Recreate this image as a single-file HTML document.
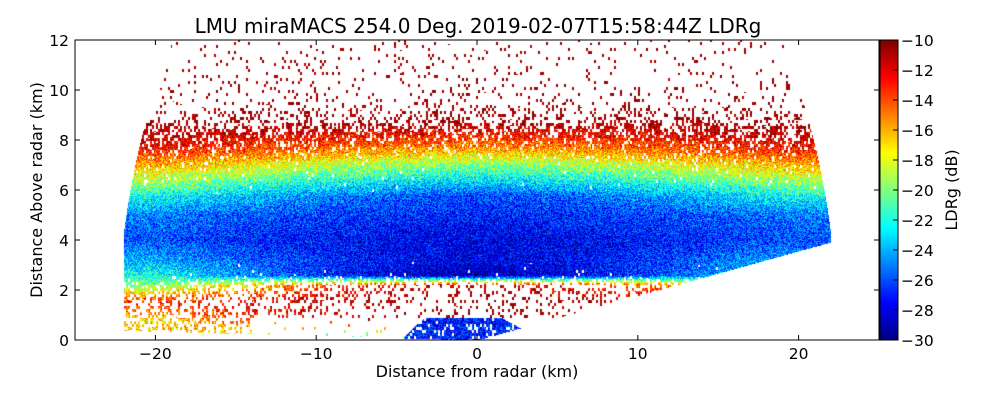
<!DOCTYPE html>
<html><head><meta charset="utf-8">
<style>
body{margin:0;background:#fff;width:1000px;height:400px;overflow:hidden;font-family:"DejaVu Sans",sans-serif}
#wrap{position:relative;width:1000px;height:400px}
canvas{position:absolute;left:0;top:0}
svg{position:absolute;left:0;top:0}
text{font-family:"DejaVu Sans","Liberation Sans",sans-serif;fill:#000}
</style></head><body>
<div id="wrap">
<canvas id="cv" width="1000" height="400"></canvas>
<svg id="sv" width="1000" height="400"></svg>
</div>
<script>
// Data
const heightsKm   = [0, 0.8, 1.5, 2.2, 2.6, 3.2, 4.0, 5.0, 5.8, 6.4, 7.0, 7.6, 8.2, 8.8, 9.5, 12];
const ldrCenter   = [-27,-10,-10,-11,-29,-28,-28,-27,-26,-23,-20,-16,-13,-10,-10,-10];
const ldrEdge     = [-15,-17,-13,-20,-22,-24,-26,-25,-22,-19,-16,-13,-11,-10,-10,-10];
const fillCenter  = [0.9,0.12,0.15,0.2,0.98,1,1,1,1,1,1,0.92,0.8,0.35,0.1,0.05];
const fillEdge    = [0.5,0.4,0.35,0.8,0.95,1,1,1,1,0.95,0.9,0.8,0.6,0.25,0.08,0.05];
const xTicks = [-20,-10,0,10,20];
const yTicks = [0,2,4,6,8,10,12];
const cbTicks = [-10,-12,-14,-16,-18,-20,-22,-24,-26,-28,-30];
const minElevDeg = 10.1, maxRangeKm = 22.4;

const X0=75,X1=879,Y0=340,Y1=40;
const xs=v=>X0+(v+25)/50*(X1-X0);
const ys=v=>Y0-v/12*(Y0-Y1);
const cbs=v=>Y1+(-10-v)/20*(Y0-Y1);

function jet(t){t=Math.max(0,Math.min(1,t));
 const r=Math.max(0,Math.min(1,1.5-Math.abs(4*t-3))),g=Math.max(0,Math.min(1,1.5-Math.abs(4*t-2))),b=Math.max(0,Math.min(1,1.5-Math.abs(4*t-1)));
 return [r*255|0,g*255|0,b*255|0];}
function prof(arr,h){for(let i=0;i<heightsKm.length-1;i++){if(h<=heightsKm[i+1]){const f=(h-heightsKm[i])/(heightsKm[i+1]-heightsKm[i]);return arr[i]+(arr[i+1]-arr[i])*f;}}return arr[arr.length-1];}
function hash(a,b){let n=(a*374761393+b*668265263)|0;n=(n^(n>>>13))*1274126177|0;return ((n^(n>>>16))>>>0)/4294967296;}

const cv=document.getElementById('cv'),ctx=cv.getContext('2d');
const img=ctx.createImageData(1000,400);
for(let py=Y1;py<Y0;py++)for(let px=X0;px<X1;px++){
 const x=(px-X0)/(X1-X0)*50-25,y=(Y0-py)/(Y0-Y1)*12;
 const r=Math.hypot(x,y); if(r>maxRangeKm||Math.abs(x)>22)continue;
 const el=Math.atan2(y,x)*180/Math.PI; if(el<minElevDeg||el>180-1)continue;
 const w=Math.min(1,Math.pow(Math.abs(x)/20,1.5));
 let v=prof(ldrCenter,y)*(1-w)+prof(ldrEdge,y)*w;
 let d=prof(fillCenter,y)*(1-w)+prof(fillEdge,y)*w;
 if(y<0.9&&(x<-4.5||x>3.5)&&x>-14)d*=0.1;
 const inPatch=y<0.9&&x>=-4.5&&x<=3.5&&y<(x+4.8)*0.6&&y<(3.8-x)*0.35+0.1;
 if(y<0.9&&x>=-4.5&&x<=3.5){if(inPatch){v=-27;d=0.85;}else d=0;}
 const hx=Math.floor(px/2),hy=Math.floor(py/3);
 if(hash(hx,hy)>d)continue;
 v+=(hash(px,py)-0.5)*5;
 const c=jet((v+30)/20),k=(py*1000+px)*4;
 img.data[k]=c[0];img.data[k+1]=c[1];img.data[k+2]=c[2];img.data[k+3]=255;}
for(let py=Y1;py<Y0;py++){const c=jet((Y0-py)/(Y0-Y1));for(let px=880;px<898;px++){const k=(py*1000+px)*4;img.data[k]=c[0];img.data[k+1]=c[1];img.data[k+2]=c[2];img.data[k+3]=255;}}
ctx.putImageData(img,0,0);

const sv=document.getElementById('sv');const NS='http://www.w3.org/2000/svg';
function mk(t,a,txt){const e=document.createElementNS(NS,t);for(const k in a)e.setAttribute(k,a[k]);if(txt!==undefined)e.textContent=txt;sv.appendChild(e);return e;}
let e=mk('rect',{x:X0,y:Y1,width:X1-X0,height:Y0-Y1,fill:'none',stroke:'#000'});

e=mk('rect',{x:880,y:Y1,width:18,height:Y0-Y1,fill:'none',stroke:'#000'});

xTicks.forEach(t=>{const x=xs(t);mk('line',{x1:x,x2:x,y1:Y0,y2:Y0-5,stroke:'#000'});mk('line',{x1:x,x2:x,y1:Y1,y2:Y1+5,stroke:'#000'});
 e=mk('text',{x:x,y:Y0+19,'text-anchor':'middle','font-size':15.5},t<0?'\u2212'+(-t):String(t));
 });
yTicks.forEach(t=>{const y=ys(t);mk('line',{x1:X0,x2:X0+5,y1:y,y2:y,stroke:'#000'});mk('line',{x1:X1,x2:X1-5,y1:y,y2:y,stroke:'#000'});
 e=mk('text',{x:X0-6,y:y+6,'text-anchor':'end','font-size':15.5},String(t));
 });
cbTicks.forEach(t=>{const y=cbs(t);mk('line',{x1:893,x2:898,y1:y,y2:y,stroke:'#000'});
 e=mk('text',{x:901,y:y+6,'font-size':15.5},t<0?'\u2212'+(-t):String(t));
 });
e=mk('text',{x:478,y:33,'text-anchor':'middle','font-size':20},'LMU miraMACS 254.0 Deg. 2019-02-07T15:58:44Z  LDRg');

e=mk('text',{x:477,y:377,'text-anchor':'middle','font-size':16},'Distance from radar (km)');

e=mk('text',{x:42,y:190,'text-anchor':'middle','font-size':16,transform:'rotate(-90 42 190)'},'Distance Above radar  (km)');

e=mk('text',{x:957,y:190,'text-anchor':'middle','font-size':16,transform:'rotate(-90 957 190)'},'LDRg (dB)');

</script>
</body></html>
